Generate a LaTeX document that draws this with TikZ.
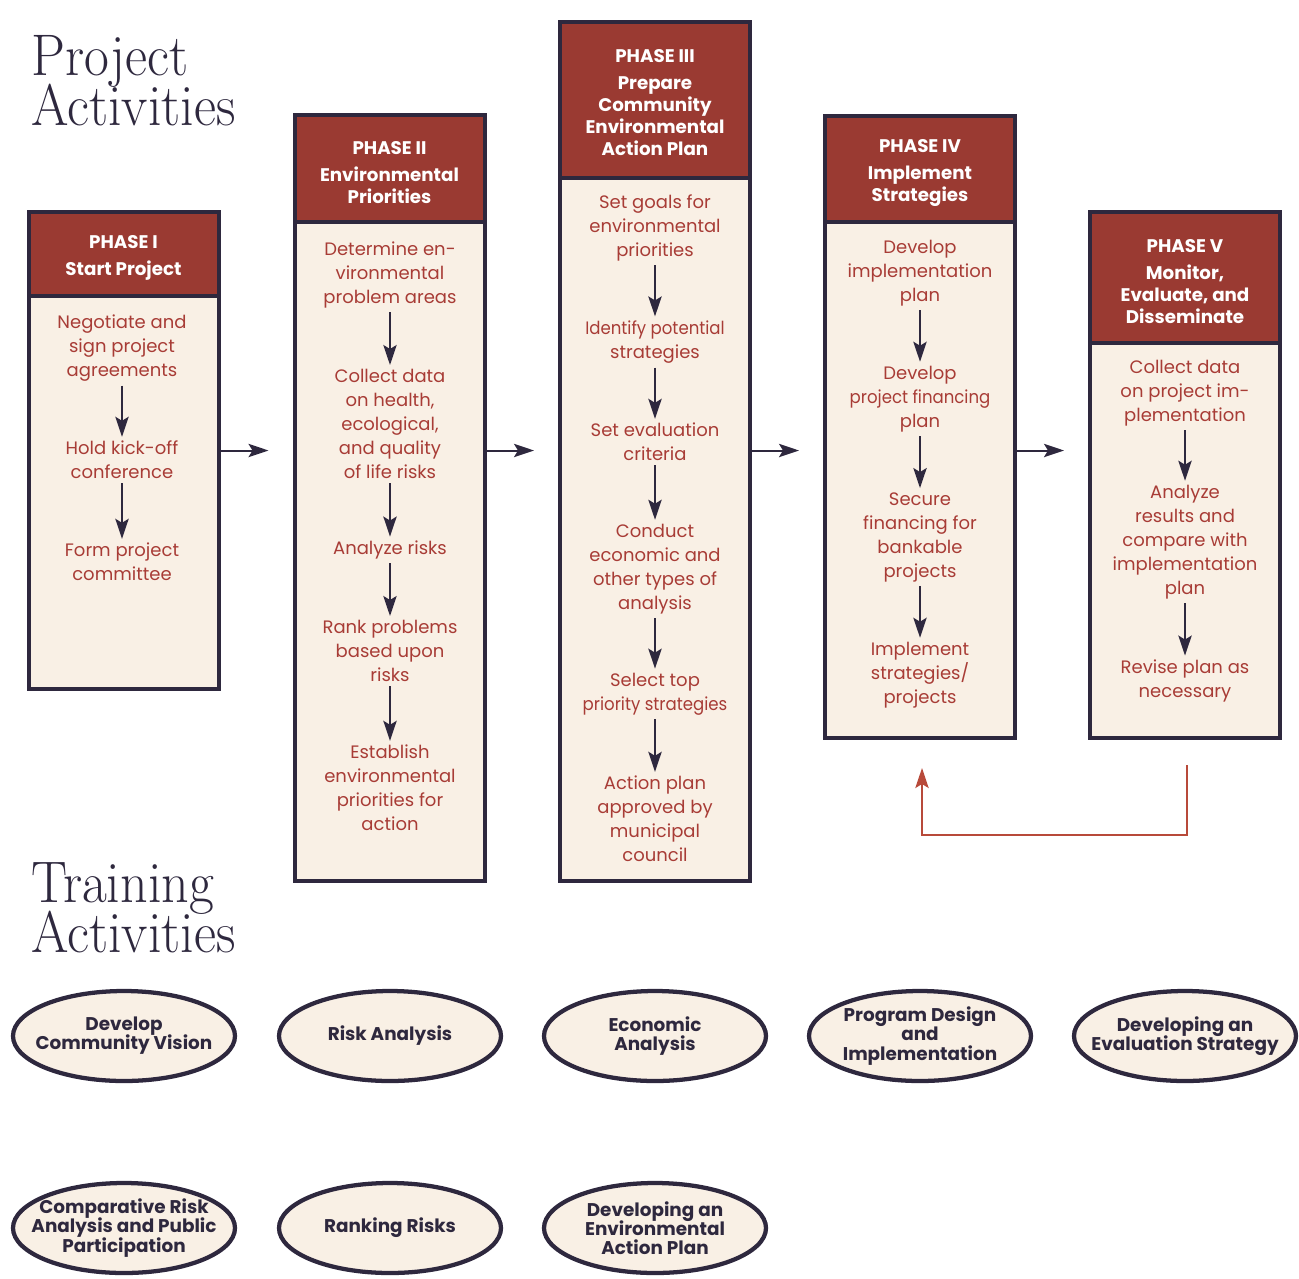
\documentclass[tikz,border=0pt]{standalone}
\usepackage{fontspec}
\usepackage{graphicx}
\newfontfamily\pop{Poppins}
\usetikzlibrary{arrows.meta,shapes.geometric}
\definecolor{hdrred}{RGB}{154,58,50}
\definecolor{cream}{RGB}{249,240,229}
\definecolor{ink}{RGB}{46,40,62}
\definecolor{txtred}{RGB}{168,60,54}
\definecolor{fbred}{RGB}{184,74,58}
\newcommand{\pxu}{*0.75pt}
\newcommand{\cond}[1]{\scalebox{0.92}[1]{#1}}
\newcommand{\ttl}[1]{\scalebox{0.92}[1]{#1}}
\newcommand{\tightlines}{\setlength{\lineskiplimit}{-40pt}\setlength{\lineskip}{0pt}}
\begin{document}
\begin{tikzpicture}[x=0.75pt,y=-0.75pt,
  phasebox/.style={draw=ink, line width=3pt, fill=cream, minimum width={190\pxu}, inner sep=0pt},
  phasehdr/.style={draw=ink, line width=3pt, fill=hdrred, minimum width={190\pxu}, inner sep=0pt, anchor=north},
  hdrtext/.style={text=white, font=\pop\bfseries\fontsize{13.7}{16.5}\selectfont, align=center, inner sep=0pt},
  item/.style={text=txtred, font=\pop\fontsize{13.5}{18}\selectfont, align=center, inner sep=3pt},
  flow/.style={draw=ink, line width=1.5pt, -{Stealth[length=15pt,width=10pt,inset=3pt]}},
  fback/.style={draw=fbred, line width=1.5pt, -{Stealth[length=15pt,width=10pt,inset=3pt]}},
  course/.style={ellipse, draw=ink, line width=3.2pt, fill=cream, minimum width={222\pxu},
     minimum height={90\pxu}, inner sep=0pt},
  coursetext/.style={text=ink, font={\pop\bfseries\fontsize{13.8}{14.3}\selectfont\tightlines}, align=center, inner sep=0pt},
  title/.style={anchor=north west, align=left, font={\fontsize{44}{37.5}\selectfont\tightlines}, text=ink, inner sep=0pt}
]
\useasboundingbox (0,0) rectangle (1299,1278);

% titles
\node[title] (t1) at (31,35) {\ttl{Project}\\\ttl{Activities}};
\node[title] (t2) at (31,862) {\ttl{Training}\\\ttl{Activities}};

% phase boxes
\node[phasebox, minimum height={477\pxu}] (b1) at (123.5,450.5) {};
\node[phasehdr, minimum height={84\pxu}] (h1) at (b1.north) {};
\node[hdrtext] (ht1) at ([yshift=-3pt]h1.center) {PHASE I\\[4pt]Start Project};
\node[phasebox, minimum height={766\pxu}] (b2) at (389.5,498) {};
\node[phasehdr, minimum height={107\pxu}] (h2) at (b2.north) {};
\node[hdrtext] (ht2) at ([yshift=-3pt]h2.center) {PHASE II\\[4pt]Environmental\\Priorities};
\node[phasebox, minimum height={859\pxu}] (b3) at (655,451.5) {};
\node[phasehdr, minimum height={156\pxu}] (h3) at (b3.north) {};
\node[hdrtext] (ht3) at ([yshift=-2pt]h3.center) {PHASE III\\[4pt]Prepare\\Community\\Environmental\\Action Plan};
\node[phasebox, minimum height={622\pxu}] (b4) at (920,427) {};
\node[phasehdr, minimum height={106\pxu}] (h4) at (b4.north) {};
\node[hdrtext] (ht4) at ([yshift=-3pt]h4.center) {PHASE IV\\[4pt]Implement\\Strategies};
\node[phasebox, minimum height={526\pxu}] (b5) at (1185,475) {};
\node[phasehdr, minimum height={131\pxu}] (h5) at (b5.north) {};
\node[hdrtext] (ht5) at ([yshift=-3pt]h5.center) {PHASE V\\[4pt]Monitor,\\Evaluate, and\\Disseminate};

% phase I items
\node[item] (i11) at (122,348) {Negotiate and\\sign project\\agreements};
\node[item] (i12) at (122,460) {Hold kick-off\\conference};
\node[item] (i13) at (122,562) {Form project\\committee};
\draw[flow] (i11) -- (i12);
\draw[flow] (i12) -- (i13);

% phase II items
\node[item] (i21) at (390,275) {Determine en-\\vironmental\\problem areas};
\node[item] (i22) at (390,424) {Collect data\\on health,\\ecological,\\and quality\\of life risks};
\node[item] (i23) at (390,550) {Analyze risks};
\node[item] (i24) at (390,651) {Rank problems\\based upon\\risks};
\node[item] (i25) at (390,788) {Establish\\environmental\\priorities for\\action};
\draw[flow] (i21) -- (i22);
\draw[flow] (i22) -- (i23);
\draw[flow] (i23) -- (i24);
\draw[flow] (i24) -- (i25);

% phase III items
\node[item] (i31) at (655,228) {Set goals for\\environmental\\priorities};
\node[item] (i32) at (655,342) {\cond{Identify potential}\\strategies};
\node[item] (i33) at (655,442) {Set evaluation\\criteria};
\node[item] (i34) at (655,569) {Conduct\\economic and\\other types of\\analysis};
\node[item] (i35) at (655,694) {Select top\\\cond{priority strategies}};
\node[item] (i36) at (655,819) {Action plan\\approved by\\municipal\\council};
\draw[flow] (i31) -- (i32);
\draw[flow] (i32) -- (i33);
\draw[flow] (i33) -- (i34);
\draw[flow] (i34) -- (i35);
\draw[flow] (i35) -- (i36);

% phase IV items
\node[item] (i41) at (920,273) {Develop\\implementation\\plan};
\node[item] (i42) at (920,399) {Develop\\\cond{project financing}\\plan};
\node[item] (i43) at (920,537) {Secure\\financing for\\bankable\\projects};
\node[item] (i44) at (920,675) {Implement\\strategies/\\projects};
\draw[flow] (i41) -- (i42);
\draw[flow] (i42) -- (i43);
\draw[flow] (i43) -- (i44);

% phase V items
\node[item] (i51) at (1185,393) {Collect data\\on project im-\\plementation};
\node[item] (i52) at (1185,542) {Analyze\\results and\\compare with\\implementation\\plan};
\node[item] (i53) at (1185,681) {Revise plan as\\necessary};
\draw[flow] (i51) -- (i52);
\draw[flow] (i52) -- (i53);

% arrows between phases
\draw[flow, shorten >=18pt] (b1.east) -- (b1.east -| b2.west);
\draw[flow, shorten >=18pt] (b2.east |- b1.east) -- (b1.east -| b3.west);
\draw[flow, shorten >=18pt] (b3.east |- b1.east) -- (b1.east -| b4.west);
\draw[flow, shorten >=18pt] (b4.east |- b1.east) -- (b1.east -| b5.west);

% feedback loop
\coordinate (fbs) at (1187,765);
\coordinate (fbe) at (922,768);
\draw[fback] (fbs) -- ++(0,70) -| (fbe);

% training activities
\node[course] (c1) at (124,1036) {};
\node[coursetext] (ct1) at (c1.center) {Develop\\Community Vision};
\node[course] (c2) at (390,1036) {};
\node[coursetext] (ct2) at (c2.center) {Risk Analysis};
\node[course] (c3) at (655,1036) {};
\node[coursetext] (ct3) at (c3.center) {Economic\\Analysis};
\node[course] (c4) at (920,1036) {};
\node[coursetext] (ct4) at (c4.center) {Program Design\\and\\Implementation};
\node[course] (c5) at (1185,1036) {};
\node[coursetext] (ct5) at (c5.center) {Developing an\\Evaluation Strategy};
\node[course] (c6) at (124,1228) {};
\node[coursetext] (ct6) at (c6.center) {Comparative Risk\\Analysis and Public\\Participation};
\node[course] (c7) at (390,1228) {};
\node[coursetext] (ct7) at (c7.center) {Ranking Risks};
\node[course] (c8) at (655,1228) {};
\node[coursetext] (ct8) at (c8.center) {Developing an\\Environmental\\Action Plan};
\end{tikzpicture}
\end{document}
